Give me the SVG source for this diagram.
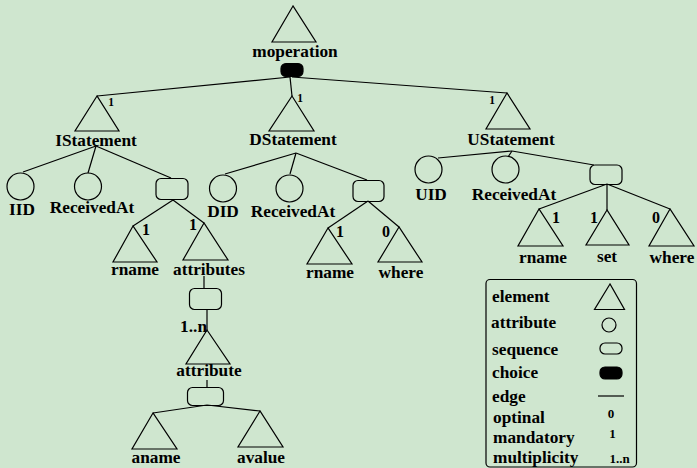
<svg xmlns="http://www.w3.org/2000/svg" width="697" height="468" viewBox="0 0 697 468">
<style>
.sh{fill:none;stroke:#000;stroke-width:1.2}
.ch{fill:#000;stroke:#000;stroke-width:1.2}
.ed{fill:none;stroke:#000;stroke-width:1.2}
text{font-family:"Liberation Serif","Times New Roman",serif;font-weight:bold;fill:#000}
.l{font-size:17.3px;text-anchor:middle}
.lg{font-size:17.3px}
.m{font-size:16px;text-anchor:middle}
.s{font-size:11.5px;text-anchor:middle}
.ls{font-size:13px;text-anchor:middle}
</style>
<rect x="0" y="0" width="697" height="468" fill="#cfe6cf"/>
<g id="connectors">
<line class="ed" x1="290" y1="77" x2="97" y2="96"/>
<line class="ed" x1="290" y1="77" x2="292" y2="96"/>
<line class="ed" x1="292" y1="77" x2="507" y2="93"/>
<line class="ed" x1="96" y1="146" x2="23" y2="172"/>
<line class="ed" x1="96" y1="146" x2="88" y2="173"/>
<line class="ed" x1="96" y1="146" x2="171" y2="178"/>
<line class="ed" x1="173" y1="200" x2="133" y2="226"/>
<line class="ed" x1="173" y1="200" x2="204" y2="223"/>
<line class="ed" x1="204" y1="276" x2="204" y2="288"/>
<line class="ed" x1="207" y1="309" x2="207" y2="330"/>
<line class="ed" x1="207" y1="380" x2="207" y2="387"/>
<line class="ed" x1="207" y1="405" x2="153" y2="413"/>
<line class="ed" x1="207" y1="405" x2="260" y2="411"/>
<line class="ed" x1="296" y1="153" x2="225" y2="174"/>
<line class="ed" x1="296" y1="153" x2="290" y2="174"/>
<line class="ed" x1="296" y1="153" x2="367" y2="180"/>
<line class="ed" x1="368" y1="201" x2="328" y2="228"/>
<line class="ed" x1="368" y1="201" x2="399" y2="227"/>
<line class="ed" x1="512" y1="151" x2="438" y2="158"/>
<line class="ed" x1="512" y1="151" x2="508" y2="157"/>
<line class="ed" x1="512" y1="151" x2="594" y2="165"/>
<line class="ed" x1="607" y1="184" x2="539" y2="209"/>
<line class="ed" x1="607" y1="184" x2="607" y2="210"/>
<line class="ed" x1="607" y1="184" x2="670" y2="209"/>
</g>
<g id="moperation">
<polygon class="sh" points="293,6 272,42 316,42"/>
<text class="l" x="295" y="57">moperation</text>
</g>
<g id="moperation-choice">
<rect class="ch" x="281" y="63.5" width="22" height="13" rx="5"/>
</g>
<g id="IStatement">
<polygon class="sh" points="97,96 75,131 119,131"/>
<text class="s" x="111" y="106">1</text>
<text class="l" x="96" y="146">IStatement</text>
</g>
<g id="I-IID">
<circle class="sh" cx="20.5" cy="186.5" r="13.5"/>
<text class="l" x="22" y="215">IID</text>
</g>
<g id="I-ReceivedAt">
<circle class="sh" cx="88" cy="186.5" r="13.5"/>
<text class="l" x="92" y="213">ReceivedAt</text>
</g>
<g id="I-seq">
<rect class="sh" x="156" y="178.5" width="32" height="21" rx="5"/>
</g>
<g id="I-rname">
<polygon class="sh" points="133,226 113,262 157,262"/>
<text class="m" x="146" y="235">1</text>
<text class="l" x="135" y="275">rname</text>
</g>
<g id="I-attributes">
<polygon class="sh" points="204,223 183,260 228,260"/>
<text class="m" x="193" y="230">1</text>
<text class="l" x="209" y="275">attributes</text>
</g>
<g id="attributes-seq">
<rect class="sh" x="189.5" y="288.5" width="32" height="21" rx="5"/>
</g>
<g id="attribute">
<polygon class="sh" points="207,330 186,364 230,364"/>
<text class="l" x="207" y="332" style="text-anchor:end">1..n</text>
<text class="l" x="209" y="376">attribute</text>
</g>
<g id="attribute-seq">
<rect class="sh" x="187.5" y="387.5" width="36" height="18" rx="5"/>
</g>
<g id="aname">
<polygon class="sh" points="153,413 132,449 177,449"/>
<text class="l" x="156" y="463">aname</text>
</g>
<g id="avalue">
<polygon class="sh" points="260,411 238,447 283,447"/>
<text class="l" x="261" y="463">avalue</text>
</g>
<g id="DStatement">
<polygon class="sh" points="292,96 269,131 314,131"/>
<text class="s" x="300" y="102">1</text>
<text class="l" x="293" y="145">DStatement</text>
</g>
<g id="D-DID">
<circle class="sh" cx="223" cy="188.5" r="13.5"/>
<text class="l" x="223" y="217">DID</text>
</g>
<g id="D-ReceivedAt">
<circle class="sh" cx="289.5" cy="188.5" r="13.5"/>
<text class="l" x="293" y="217">ReceivedAt</text>
</g>
<g id="D-seq">
<rect class="sh" x="353" y="180.5" width="31" height="21" rx="5"/>
</g>
<g id="D-rname">
<polygon class="sh" points="328,228 307,264 352,264"/>
<text class="m" x="340" y="237">1</text>
<text class="l" x="330" y="278">rname</text>
</g>
<g id="D-where">
<polygon class="sh" points="399,227 378,262 422,262"/>
<text class="m" x="386" y="237">0</text>
<text class="l" x="401" y="278">where</text>
</g>
<g id="UStatement">
<polygon class="sh" points="507,93 486,129 530,129"/>
<text class="s" x="492" y="104">1</text>
<text class="l" x="511" y="145">UStatement</text>
</g>
<g id="U-UID">
<circle class="sh" cx="428.5" cy="169.5" r="13.5"/>
<text class="l" x="431" y="200">UID</text>
</g>
<g id="U-ReceivedAt">
<circle class="sh" cx="505.5" cy="169.5" r="13.5"/>
<text class="l" x="514" y="200">ReceivedAt</text>
</g>
<g id="U-seq">
<rect class="sh" x="590" y="165" width="32" height="19.5" rx="5"/>
</g>
<g id="U-rname">
<polygon class="sh" points="539,209 518,246 563,246"/>
<text class="m" x="556" y="223">1</text>
<text class="l" x="543" y="263">rname</text>
</g>
<g id="U-set">
<polygon class="sh" points="607,210 586,245 629,245"/>
<text class="m" x="594" y="223">1</text>
<text class="l" x="607" y="262">set</text>
</g>
<g id="U-where">
<polygon class="sh" points="670,209 649,246 694,246"/>
<text class="m" x="656" y="223">0</text>
<text class="l" x="672" y="263">where</text>
</g>
<g id="legend">
<rect class="sh" x="486" y="279.5" width="150.5" height="187.5" rx="4"/>
<text class="lg" x="492" y="302">element</text>
<text class="lg" x="491" y="328">attribute</text>
<text class="lg" x="492" y="355">sequence</text>
<text class="lg" x="492" y="378">choice</text>
<text class="lg" x="492" y="402">edge</text>
<text class="lg" x="493" y="423">optinal</text>
<text class="lg" x="493" y="443">mandatory</text>
<text class="lg" x="493" y="463">multiplicity</text>
<polygon class="sh" points="610,284 594.5,309.5 624.5,309.5"/>
<circle class="sh" cx="609" cy="325" r="7"/>
<rect class="sh" x="600" y="343" width="22" height="11" rx="5"/>
<rect class="ch" x="600" y="367" width="22" height="12" rx="5"/>
<line class="ed" x1="598" y1="396" x2="624" y2="396"/>
<text class="ls" x="611" y="418">0</text>
<text class="ls" x="612.5" y="438">1</text>
<text class="ls" x="619.5" y="463">1..n</text>
</g>
</svg>
